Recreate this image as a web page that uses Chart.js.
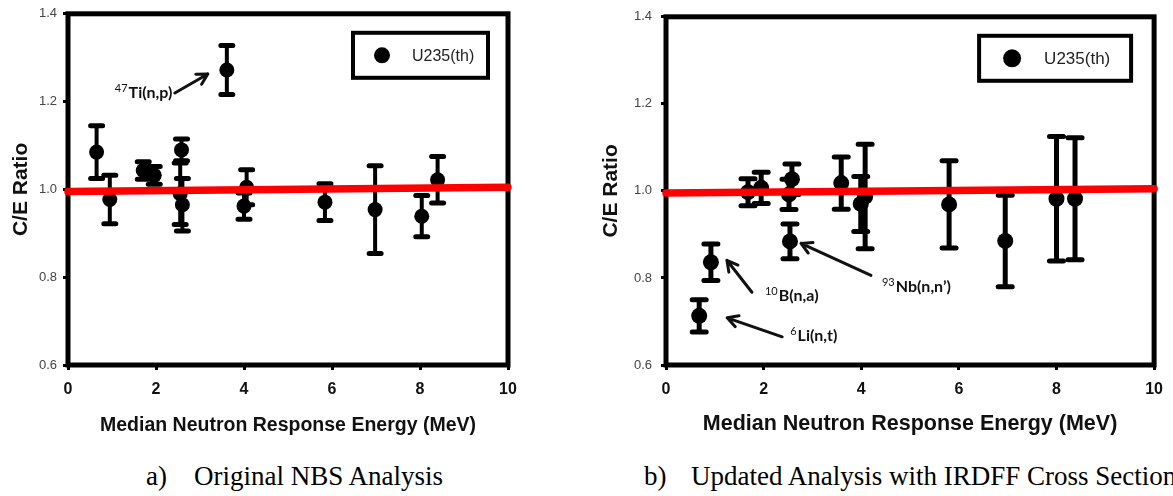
<!DOCTYPE html>
<html>
<head>
<meta charset="utf-8">
<title>C/E Ratio vs Median Neutron Response Energy</title>
<script src="https://cdn.jsdelivr.net/npm/chart.js@4.4.0/dist/chart.umd.min.js"></script>
<style>
  body { margin: 0; background: #fff; width: 1173px; height: 496px; overflow: hidden; position: relative; }
  canvas { position: absolute; top: 0; }
  #nbsChart { left: 0; }
  #irdffChart { left: 580px; }
  .caption { position: absolute; top: 462px; font: 27px "Liberation Serif", "Times New Roman", serif; line-height: 28px; color: #000; white-space: nowrap; }
  .caption span { position: absolute; top: 0; }
</style>
</head>
<body>
<canvas id="nbsChart" width="580" height="435"></canvas>
<canvas id="irdffChart" width="593" height="435"></canvas>
<div class="caption" style="left:146px">a)<span style="left:48px">Original NBS Analysis</span></div>
<div class="caption" style="left:644px">b)<span style="left:47px">Updated Analysis with IRDFF Cross Sections</span></div>
<script>
// Axis ticks shared by both panels
const xTicks = [0, 2, 4, 6, 8, 10];
const yTicks = [0.6, 0.8, 1.0, 1.2, 1.4];
const seriesLabel = 'U235(th)';

// a) Original NBS analysis
const nbsEnergy = [0.65, 0.95, 1.71, 1.96, 2.58, 2.55, 2.6, 3.61, 4.06, 4.0, 5.84, 6.98, 8.04, 8.4];
const nbsRatio  = [1.085, 0.977, 1.043, 1.032, 1.09, 0.99, 0.965, 1.272, 1.005, 0.962, 0.971, 0.954, 0.939, 1.022];
const nbsError  = [0.06, 0.055, 0.02, 0.02, 0.025, 0.07, 0.06, 0.056, 0.04, 0.03, 0.042, 0.1, 0.047, 0.053];

// b) Updated analysis with IRDFF cross sections
const irdffEnergy = [0.68, 0.92, 1.68, 1.95, 2.54, 2.58, 2.52, 3.59, 4.08, 3.99, 5.8, 6.95, 8.0, 8.38];
const irdffRatio  = [0.713, 0.836, 0.997, 1.007, 0.884, 1.027, 0.992, 1.018, 0.987, 0.97, 0.969, 0.885, 0.982, 0.982];
const irdffError  = [0.037, 0.042, 0.031, 0.036, 0.04, 0.035, 0.035, 0.06, 0.12, 0.063, 0.1, 0.105, 0.143, 0.14];

// Red C/E = 1 reference line
const unityEnergy = [0, 10];
const unityRatio  = [0.995, 1.005];

const SANS = '"Liberation Sans", Arial, sans-serif';
const NOTE = 'Lato, "Open Sans", sans-serif';

// Frame, error bars, legend box and arrow notes
const decorations = {
  id: 'decorations',
  beforeDatasetsDraw(chart, args, opts) {
    const { ctx, chartArea: a } = chart;
    const ys = chart.scales.y;
    const ds = chart.data.datasets[0];
    ctx.save();
    ctx.strokeStyle = '#000';
    ctx.lineWidth = 5;
    ctx.strokeRect(a.left, a.top, a.width, a.height);

    chart.getDatasetMeta(0).data.forEach((pt, i) => {
      const d = ds.data[i];
      const top = ys.getPixelForValue(d.y + d.err);
      const bot = ys.getPixelForValue(d.y - d.err);
      ctx.lineCap = 'butt';
      ctx.lineWidth = opts.barWidth;
      ctx.beginPath();
      ctx.moveTo(pt.x, top);
      ctx.lineTo(pt.x, bot);
      ctx.stroke();
      ctx.lineCap = 'round';
      ctx.lineWidth = 5;
      ctx.beginPath();
      ctx.moveTo(pt.x - opts.cap, top);
      ctx.lineTo(pt.x + opts.cap, top);
      ctx.moveTo(pt.x - opts.cap, bot);
      ctx.lineTo(pt.x + opts.cap, bot);
      ctx.stroke();
    });
    ctx.restore();
  },
  afterDatasetsDraw(chart, args, opts) {
    const { ctx, chartArea: a } = chart;
    ctx.save();

    // legend
    const lg = opts.legend;
    const x0 = a.right - lg.right - lg.width;
    const y0 = a.top + lg.top;
    ctx.strokeStyle = '#000';
    ctx.lineWidth = 4;
    ctx.strokeRect(x0, y0, lg.width, lg.height);
    ctx.fillStyle = '#000';
    ctx.beginPath();
    ctx.arc(x0 + lg.marker, y0 + lg.height / 2, lg.radius, 0, Math.PI * 2);
    ctx.fill();
    ctx.fillStyle = '#222';
    ctx.font = lg.fontSize + 'px ' + SANS;
    ctx.textBaseline = 'middle';
    ctx.fillText(chart.data.datasets[0].label, x0 + lg.textX, y0 + lg.height / 2 + 1);

    // arrow notes
    const meta = chart.getDatasetMeta(0);
    ctx.textBaseline = 'alphabetic';
    opts.notes.forEach(n => {
      const pt = meta.data[n.index];
      const tipX = pt.x + n.tip[0], tipY = pt.y + n.tip[1];
      const tailX = pt.x + n.tail[0], tailY = pt.y + n.tail[1];
      const ang = Math.atan2(tipY - tailY, tipX - tailX);
      ctx.strokeStyle = '#111';
      ctx.lineWidth = 3;
      ctx.lineCap = 'round';
      ctx.beginPath();
      ctx.moveTo(tailX, tailY);
      ctx.lineTo(tipX, tipY);
      [-1, 1].forEach(s => {
        ctx.moveTo(tipX, tipY);
        ctx.lineTo(tipX - 12 * Math.cos(ang + s * 0.5), tipY - 12 * Math.sin(ang + s * 0.5));
      });
      ctx.stroke();

      const tx = pt.x + n.at[0], ty = pt.y + n.at[1];
      ctx.fillStyle = '#111';
      ctx.font = '11px ' + NOTE;
      ctx.fillText(n.sup, tx, ty - 6);
      const w = ctx.measureText(n.sup).width;
      ctx.font = 'bold 16px ' + NOTE;
      ctx.fillText(n.text, tx + w + 1, ty);
    });
    ctx.restore();
  }
};

function buildChart(id, energy, ratio, error, o) {
  const points = energy.map((x, i) => ({ x, y: ratio[i], err: error[i] }));
  const unity = unityEnergy.map((x, i) => ({ x, y: unityRatio[i] }));
  return new Chart(document.getElementById(id), {
    type: 'scatter',
    data: {
      datasets: [{
        label: seriesLabel,
        data: points,
        pointRadius: o.radius,
        pointBackgroundColor: '#000',
        pointBorderWidth: 0,
        order: 1
      }, {
        type: 'line',
        data: unity,
        borderColor: '#ff0000',
        borderWidth: 7.5,
        borderCapStyle: 'round',
        pointRadius: 0,
        clip: false,
        order: 0
      }]
    },
    options: {
      responsive: false,
      animation: false,
      events: [],
      layout: { padding: { top: 13, right: o.padRight, left: 0, bottom: 0 } },
      plugins: {
        legend: { display: false },
        tooltip: { enabled: false },
        decorations: { cap: o.cap, barWidth: o.barWidth, legend: o.legend, notes: o.notes }
      },
      scales: {
        x: {
          type: 'linear', min: 0, max: 10,
          afterBuildTicks: s => { s.ticks = xTicks.map(v => ({ value: v })); },
          afterFit: s => { s.height = 70; },
          border: { display: false },
          grid: { drawOnChartArea: false, tickLength: 5, lineWidth: 3, color: '#000' },
          ticks: { padding: 10, color: '#111', font: { family: SANS, size: 16, weight: 'bold' } },
          title: {
            display: true, text: 'Median Neutron Response Energy (MeV)', color: '#111',
            font: { family: SANS, size: o.titleSize, weight: 'bold', lineHeight: 1 },
            padding: { top: 0, bottom: 0 }
          }
        },
        y: {
          min: 0.6, max: 1.4,
          afterBuildTicks: s => { s.ticks = yTicks.map(v => ({ value: v })); },
          afterFit: s => { s.width = o.yWidth; },
          border: { display: false },
          grid: { drawOnChartArea: false, tickLength: 5, lineWidth: 3, color: '#000' },
          ticks: { padding: o.yPad, color: '#444', font: { family: SANS, size: 13 }, callback: v => v.toFixed(1) },
          title: {
            display: true, text: 'C/E Ratio', color: '#111',
            font: { family: SANS, size: 21, weight: 'bold', lineHeight: 1 },
            padding: { top: o.yTitlePad, bottom: 0 }
          }
        }
      }
    },
    plugins: [decorations]
  });
}

document.addEventListener('DOMContentLoaded', () => {
  buildChart('nbsChart', nbsEnergy, nbsRatio, nbsError, {
    padRight: 72, yWidth: 68, yPad: 6, yTitlePad: 11, titleSize: 19.5,
    radius: 7.5, cap: 6, barWidth: 4,
    legend: { right: 20, top: 19, width: 135, height: 45, marker: 29, radius: 8, textX: 59, fontSize: 16 },
    notes: [{ index: 7, sup: '47', text: 'Ti(n,p)', tip: [-19, 4], tail: [-52, 23], at: [-112, 28] }]
  });
  buildChart('irdffChart', irdffEnergy, irdffRatio, irdffError, {
    padRight: 17, yWidth: 86, yPad: 9, yTitlePad: 21, titleSize: 21.5,
    radius: 8, cap: 7, barWidth: 5,
    legend: { right: 23, top: 19, width: 152, height: 45, marker: 33, radius: 9, textX: 65, fontSize: 17 },
    notes: [
      { index: 1, sup: '10', text: 'B(n,a)', tip: [16, -2], tail: [41, 30], at: [54, 39] },
      { index: 0, sup: '6', text: 'Li(n,t)', tip: [28, 2], tail: [83, 21], at: [91, 25] },
      { index: 4, sup: '93', text: 'Nb(n,n\u2019)', tip: [11, 2], tail: [81, 34], at: [92, 51] }
    ]
  });
});
</script>
</body>
</html>
